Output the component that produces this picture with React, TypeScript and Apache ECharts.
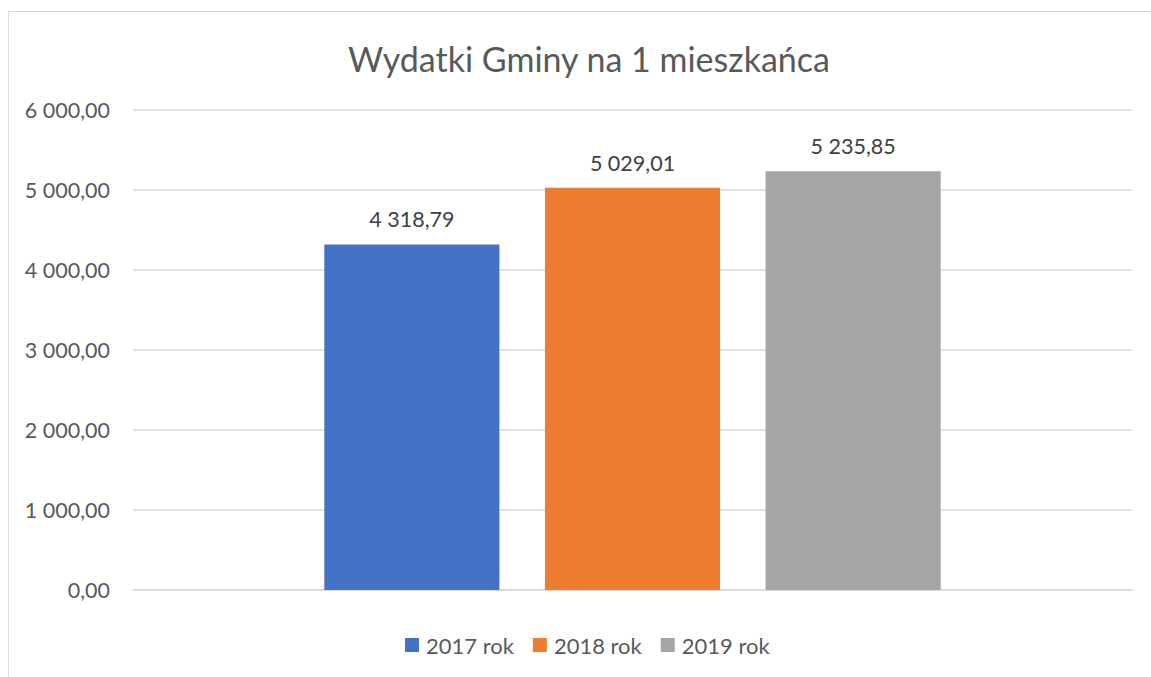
import React, { useEffect, useRef } from "react";
import * as echarts from "echarts";

const title = "Wydatki Gminy na 1 mieszkańca";
const categories = [""];
const seriesNames = ["2017 rok", "2018 rok", "2019 rok"];
const seriesValues = [4318.79, 5029.01, 5235.85];
const seriesColors = ["#4472C4", "#ED7D31", "#A5A5A5"];
const yTicks = [0, 1000, 2000, 3000, 4000, 5000, 6000];

const fmt = (v: number) => {
  const [i, d] = v.toFixed(2).split(".");
  return i.replace(/\B(?=(\d{3})+(?!\d))/g, " ") + "," + d;
};

const FONT = "Lato, 'Open Sans', sans-serif";

export default function App() {
  const ref = useRef<HTMLDivElement>(null);
  useEffect(() => {
    const chart = echarts.init(ref.current!, null, { renderer: "svg" });
    chart.setOption({
      animation: false,
      backgroundColor: "#ffffff",
      textStyle: { fontFamily: FONT, color: "#595959" },
      title: {
        text: title,
        left: 584,
        textAlign: "center",
        top: 36,
        textStyle: { fontFamily: FONT, fontSize: 34, fontWeight: "normal", color: "#595959" },
      },
      graphic: [
        {
          type: "rect",
          shape: { x: 8.5, y: 11.5, width: 1170, height: 700 },
          style: { fill: "none", stroke: "#D9D9D9", lineWidth: 1 },
          silent: true,
        },
      ],
      legend: {
        data: seriesNames,
        left: 400,
        top: 629,
        icon: "rect",
        itemWidth: 14,
        itemHeight: 14,
        itemGap: 19,
        textStyle: { fontFamily: FONT, fontSize: 22, color: "#595959", padding: [0, 0, 0, 2] },
      },
      grid: { left: 133, right: 19, top: 110, bottom: 87, containLabel: false },
      xAxis: {
        type: "category",
        data: categories,
        axisLine: { show: true, lineStyle: { color: "#D9D9D9", width: 1.5 } },
        axisTick: { show: false },
        axisLabel: { show: false },
      },
      yAxis: {
        type: "value",
        min: yTicks[0],
        max: yTicks[yTicks.length - 1],
        interval: 1000,
        axisLine: { show: false },
        axisTick: { show: false },
        splitLine: { lineStyle: { color: "#D9D9D9", width: 1.5 } },
        axisLabel: {
          margin: 23,
          fontFamily: FONT,
          fontSize: 21.5,
          color: "#595959",
          formatter: (v: number) => fmt(v),
        },
      },
      series: seriesNames.map((name, i) => ({
        name,
        type: "bar",
        data: [seriesValues[i]],
        barGap: "26%",
        barCategoryGap: "38.3%",
        itemStyle: { color: seriesColors[i] },
        label: {
          show: true,
          position: "top",
          distance: 14,
          fontFamily: FONT,
          fontSize: 21.5,
          color: "#404040",
          formatter: (p: any) => fmt(p.value),
        },
      })),
    });
    return () => chart.dispose();
  }, []);
  return (
    <div
      ref={ref}
      style={{ position: "fixed", left: 0, top: 0, width: 1151, height: 677 }}
    />
  );
}
